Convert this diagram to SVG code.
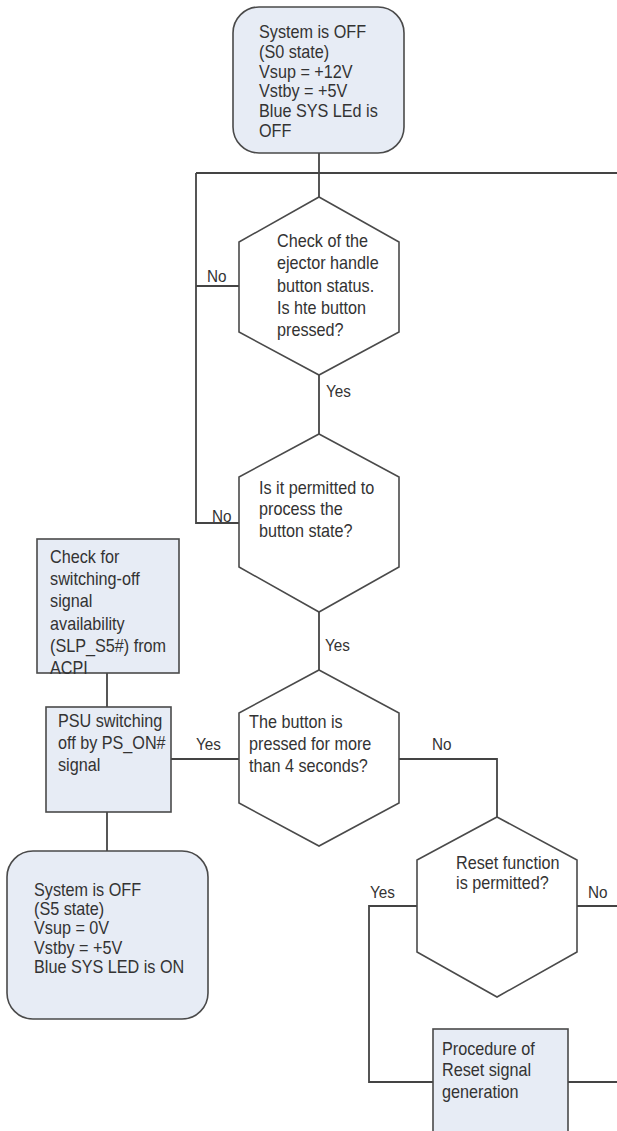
<svg xmlns="http://www.w3.org/2000/svg" width="617" height="1131" viewBox="0 0 617 1131">
  <style>
    .box { fill: #e7ecf5; stroke: #4a4a4a; stroke-width: 1.6; }
    .hex { fill: #ffffff; stroke: #4a4a4a; stroke-width: 1.6; }
    .line { fill: none; stroke: #444444; stroke-width: 1.8; }
    text { font-family: "Liberation Sans", Arial, sans-serif; fill: #333333; font-size: 18px; }
    .lbl { font-size: 17px; }
  </style>
  <rect width="617" height="1131" fill="#ffffff"/>

  <!-- connectors; all text is drawn slightly condensed (scale 0.9 horizontally) -->
  <g id="connectors">
    <path class="line" d="M319,153 V197"/>
    <path class="line" d="M196,173 H617"/>
    <path class="line" d="M196,173 V523 H239"/>
    <path class="line" d="M196,286 H239"/>
    <path class="line" d="M319,375 V434"/>
    <path class="line" d="M319,612 V670"/>
    <path class="line" d="M171,759 H239"/>
    <path class="line" d="M399,759 H497 V817"/>
    <path class="line" d="M107,673 V707"/>
    <path class="line" d="M107,812 V851"/>
    <path class="line" d="M417,906 H369 V1082 H433"/>
    <path class="line" d="M577,906 H617"/>
    <path class="line" d="M568,1082 H617"/>
    <g transform="scale(0.9 1)">
      <text class="lbl" x="230" y="282">No</text>
      <text class="lbl" x="235.6" y="522">No</text>
      <text class="lbl" x="362.2" y="397">Yes</text>
      <text class="lbl" x="361.1" y="651">Yes</text>
      <text class="lbl" x="217.8" y="750">Yes</text>
      <text class="lbl" x="480" y="750">No</text>
      <text class="lbl" x="411.1" y="898">Yes</text>
      <text class="lbl" x="653.3" y="898">No</text>
    </g>
  </g>

  <!-- start state -->
  <g id="state-s0">
    <rect class="box" x="233" y="7" width="171" height="146" rx="26" ry="26"/>
    <g transform="scale(0.9 1)">
      <text x="287.8" y="38">System is OFF</text>
      <text x="287.8" y="58">(S0 state)</text>
      <text x="287.8" y="78">Vsup = +12V</text>
      <text x="287.8" y="97">Vstby = +5V</text>
      <text x="287.8" y="117">Blue SYS LEd is</text>
      <text x="287.8" y="137">OFF</text>
    </g>
  </g>

  <g id="check-ejector">
    <polygon class="hex" points="319,197 399,242 399,332 319,375 239,332 239,242"/>
    <g transform="scale(0.9 1)">
      <text x="307.8" y="247">Check of the</text>
      <text x="307.8" y="269">ejector handle</text>
      <text x="307.8" y="292">button status.</text>
      <text x="307.8" y="314">Is hte button</text>
      <text x="307.8" y="336">pressed?</text>
    </g>
  </g>

  <g id="permitted-process">
    <polygon class="hex" points="319,434 399,477 399,567 319,612 239,567 239,477"/>
    <g transform="scale(0.9 1)">
      <text x="287.8" y="494">Is it permitted to</text>
      <text x="287.8" y="515">process the</text>
      <text x="287.8" y="537">button state?</text>
    </g>
  </g>

  <g id="pressed-4s">
    <polygon class="hex" points="319,670 399,713 399,803 319,846 239,803 239,713"/>
    <g transform="scale(0.9 1)">
      <text x="276.7" y="728">The button is</text>
      <text x="276.7" y="750">pressed for more</text>
      <text x="276.7" y="772">than 4 seconds?</text>
    </g>
  </g>

  <g id="check-slp-s5">
    <rect class="box" x="37" y="539" width="142" height="134"/>
    <g transform="scale(0.9 1)">
      <text x="55.6" y="563">Check for</text>
      <text x="55.6" y="585">switching-off</text>
      <text x="55.6" y="607">signal</text>
      <text x="55.6" y="630">availability</text>
      <text x="55.6" y="652">(SLP_S5#) from</text>
      <text x="55.6" y="674">ACPI</text>
    </g>
  </g>

  <g id="psu-off">
    <rect class="box" x="46" y="707" width="125" height="105"/>
    <g transform="scale(0.9 1)">
      <text x="64.4" y="727">PSU switching</text>
      <text x="64.4" y="749">off by PS_ON#</text>
      <text x="64.4" y="771">signal</text>
    </g>
  </g>

  <g id="state-s5">
    <rect class="box" x="7" y="851" width="201" height="168" rx="26" ry="26"/>
    <g transform="scale(0.9 1)">
      <text x="37.8" y="896">System is OFF</text>
      <text x="37.8" y="915">(S5 state)</text>
      <text x="37.8" y="934">Vsup = 0V</text>
      <text x="37.8" y="954">Vstby = +5V</text>
      <text x="37.8" y="973">Blue SYS LED is ON</text>
    </g>
  </g>

  <g id="reset-permitted">
    <polygon class="hex" points="497,817 577,860 577,952 497,997 417,952 417,860"/>
    <g transform="scale(0.9 1)">
      <text x="506.7" y="869">Reset function</text>
      <text x="506.7" y="889">is permitted?</text>
    </g>
  </g>

  <g id="reset-procedure">
    <rect class="box" x="433" y="1029" width="135" height="120"/>
    <g transform="scale(0.9 1)">
      <text x="491.1" y="1055">Procedure of</text>
      <text x="491.1" y="1076">Reset signal</text>
      <text x="491.1" y="1098">generation</text>
    </g>
  </g>
</svg>
